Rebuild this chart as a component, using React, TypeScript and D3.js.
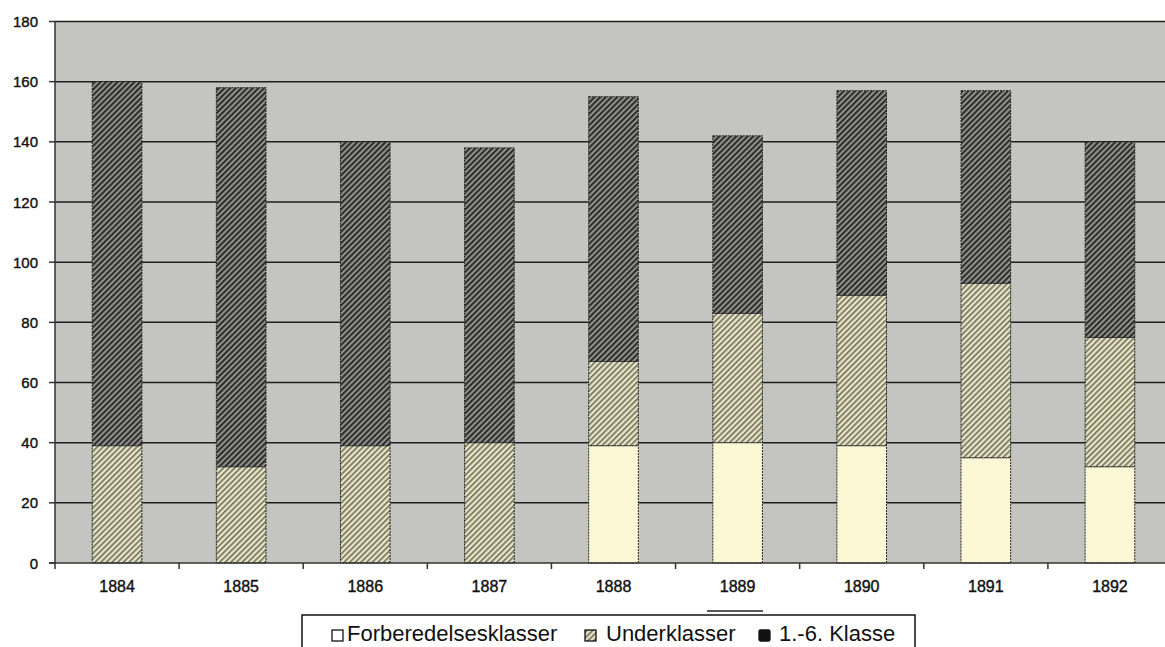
import React from "react";
import * as d3 from "d3";

const years = ["1884", "1885", "1886", "1887", "1888", "1889", "1890", "1891", "1892"];
const forberedelses = [0, 0, 0, 0, 39, 40, 39, 35, 32];
const underklasser = [39, 32, 39, 40, 28, 43, 50, 58, 43];
const klasse16 = [121, 126, 101, 98, 88, 59, 68, 64, 65];
const yTicks = [0, 20, 40, 60, 80, 100, 120, 140, 160, 180];
const seriesNames = ["Forberedelsesklasser", "Underklasser", "1.-6. Klasse"];

const W = 1165;
const H = 647;
const left = 55;
const right = 1172;
const top = 21.5;
const bottom = 563;

export default function App() {
  const x = d3.scaleBand<string>().domain(years).range([left, right]).paddingInner(0.6).paddingOuter(0.3);
  const y = d3.scaleLinear().domain([0, 180]).range([bottom, top]);
  const rows = years.map((yr, i) => ({
    year: yr,
    Forberedelsesklasser: forberedelses[i],
    Underklasser: underklasser[i],
    "1.-6. Klasse": klasse16[i],
  }));
  const stack = d3.stack<any>().keys(seriesNames)(rows);
  const fills = ["#fcf8d6", "url(#hatchUnder)", "url(#hatchKlasse)"];
  const step = x.step();
  const boundaries = d3.range(years.length + 1).map((i) => left + i * step);

  return (
    <svg width={W} height={H} style={{ position: "absolute", left: 0, top: 0, background: "#fff" }}
      fontFamily="'Liberation Sans', Arial, sans-serif">
      <defs>
        <pattern id="hatchUnder" patternUnits="userSpaceOnUse" width="4" height="4" patternTransform="rotate(45)">
          <rect width="4" height="4" fill="#e9e6c6" />
          <rect width="1.6" height="4" fill="#6e6c5c" />
        </pattern>
        <pattern id="hatchKlasse" patternUnits="userSpaceOnUse" width="4" height="4" patternTransform="rotate(45)">
          <rect width="4" height="4" fill="#9a9a96" />
          <rect width="2.2" height="4" fill="#2e2e2e" />
        </pattern>
      </defs>
      <rect x={left} y={top} width={W - left} height={bottom - top} fill="#c4c4c0" />
      {yTicks.filter((t) => t > 0).map((t) => (
        <line key={t} x1={left} x2={W} y1={y(t)} y2={y(t)} stroke="#1e1e1e" strokeWidth={1.5} />
      ))}
      {stack.map((s, si) =>
        s.map((d, i) =>
          d[1] - d[0] > 0 ? (
            <rect key={si + "-" + i} x={x(years[i])} y={y(d[1])} width={x.bandwidth()} height={y(d[0]) - y(d[1])}
              fill={fills[si]} stroke="#222" strokeWidth={1} strokeDasharray="2,1" />
          ) : null
        )
      )}
      <line x1={left} x2={left} y1={top} y2={bottom} stroke="#333" strokeWidth={1.5} />
      <line x1={left - 6} x2={W} y1={bottom} y2={bottom} stroke="#333" strokeWidth={1.5} />
      {yTicks.map((t) => (
        <g key={t}>
          <line x1={left - 6} x2={left} y1={y(t)} y2={y(t)} stroke="#333" strokeWidth={1.5} />
          <text x={38} y={y(t) + 5.5} textAnchor="end" fontSize={15} fill="#111" stroke="#111" strokeWidth={0.4}>{t}</text>
        </g>
      ))}
      {boundaries.map((b, i) => (
        <line key={i} x1={b} x2={b} y1={bottom} y2={bottom + 6} stroke="#333" strokeWidth={1.5} />
      ))}
      {years.map((yr) => (
        <text key={yr} x={(x(yr) as number) + x.bandwidth() / 2} y={592} textAnchor="middle" fontSize={16} fill="#111" stroke="#111" strokeWidth={0.4}>{yr}</text>
      ))}
      <line x1={707} x2={763} y1={611} y2={611} stroke="#222" strokeWidth={1.5} />
      <rect x={302} y={615} width={613} height={60} fill="#fff" stroke="#111" strokeWidth={1.5} />
      <rect x={332} y={630} width={11} height={11} fill="#fff" stroke="#111" strokeWidth={1.3} />
      <text x={347} y={641} fontSize={22} fill="#111">{seriesNames[0]}</text>
      <rect x={585} y={630} width={11} height={11} fill="url(#hatchUnder)" stroke="#111" strokeWidth={1.3} />
      <text x={606} y={641} fontSize={22} fill="#111">{seriesNames[1]}</text>
      <rect x={759} y={630} width={11} height={11} fill="#111" stroke="#111" strokeWidth={1.3} rx={1.5} />
      <text x={779} y={641} fontSize={22} fill="#111">{seriesNames[2]}</text>
    </svg>
  );
}
